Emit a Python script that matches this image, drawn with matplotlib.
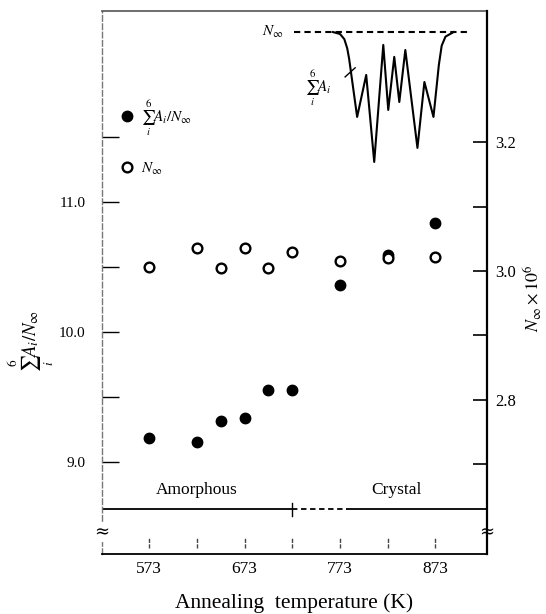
import matplotlib
matplotlib.use('Agg')
import matplotlib.pyplot as plt
from matplotlib.lines import Line2D
import numpy as np

plt.rcParams['font.family'] = ['Liberation Serif', 'DejaVu Serif']
plt.rcParams['mathtext.fontset'] = 'stix'

# ---- data ----
temps = [573, 623, 648, 673, 698, 723, 773, 823, 873]
sum_ratio = [9.18, 9.15, 9.31, 9.34, 9.55, 9.55, 10.36, 10.59, 10.84]
n_inf = [3.006, 3.036, 3.005, 3.036, 3.005, 3.030, 3.015, 3.020, 3.022]

xtick_vals = [573, 673, 773, 873]
xtick_marks = [573, 623, 673, 723, 773, 823, 873]
left_major = [9.0, 10.0, 11.0]
left_minor = [9.5, 10.5, 11.5]
right_major = [2.8, 3.0, 3.2]
right_minor = [2.7, 2.9, 3.1]
phase_labels = ['Amorphous', 'Crystal']
phase_boundary = 723

# schematic inset curve (sum of A_i vs N_inf), drawn in main-axis units
sketch_x = [765.6, 773.0, 777.5, 780.5, 782.5, 790.9, 800.4, 808.8, 818.3, 823.5,
            829.8, 835.1, 841.4, 854.1, 861.4, 870.9, 876.5, 879.5, 883.5, 892.0]
sketch_y = [12.305, 12.29, 12.25, 12.18, 12.10, 11.652, 11.975, 11.306, 12.206, 11.706,
            12.114, 11.767, 12.167, 11.414, 11.921, 11.652, 12.05, 12.20, 12.27, 12.305]
sketch_ref_x = [724.6, 906.7]
sketch_ref_y = 12.305

# ---- figure ----
fig = plt.figure(figsize=(5.46, 6.14), dpi=100)
ax = fig.add_axes([102/546, 1-554/614, 385/546, 543/614])
ax2 = ax.twinx()

ax.set_xlim(523.5, 927.0)
ax.set_ylim(8.290, 12.467)
ax2.set_ylim(2.5607, 3.4039)

# data
ax.plot(temps, sum_ratio, 'o', color='black', ms=7.5, zorder=5)
ax2.plot(temps, n_inf, 'o', mfc='white', mec='black', mew=1.7, ms=7, zorder=5)

# spines
ax.spines['left'].set_linestyle((0, (4, 2)))
ax.spines['left'].set_color('#777777')
ax.spines['left'].set_linewidth(1.0)
ax.spines['top'].set_color('#555555')
ax.spines['top'].set_linewidth(1.2)
ax.spines['bottom'].set_linewidth(1.3)
ax.spines['right'].set_visible(False)
for s in ['left', 'top', 'bottom']:
    ax2.spines[s].set_visible(False)
ax2.spines['right'].set_linewidth(1.6)

# left ticks
ax.set_yticks(left_major)
ax.set_yticks(left_minor, minor=True)
ax.set_yticklabels([f'{v:.1f}' for v in left_major])
ax.tick_params(axis='y', which='both', direction='in', length=12, width=1.0,
               labelsize=11, pad=12)

# right ticks
ax2.set_yticks(right_major)
ax2.set_yticks(right_minor, minor=True)
ax2.set_yticklabels([f'{v:.1f}' for v in right_major])
ax2.tick_params(axis='y', which='both', direction='in', length=10, width=1.2,
                labelsize=12, pad=6)

# x ticks
ax.set_xticks(xtick_vals)
ax.set_xticklabels([str(v) for v in xtick_vals])
ax.tick_params(axis='x', length=0, labelsize=12.5, pad=5)
ax.vlines(xtick_marks, 0.011, 0.029, transform=ax.get_xaxis_transform(),
          color='#444444', lw=1.0, linestyles=(0, (3, 1)))

ax.set_xlabel('Annealing  temperature (K)', fontsize=15.5, labelpad=12)
ax.set_ylabel(r'$\sum_i^6 A_i/N_\infty$', fontsize=13.5, va='center', ha='center')
ax.yaxis.set_label_coords((31 - 102) / 385, (554 - 341) / 543)
ax2.set_ylabel(r'$N_\infty\times10^6$', fontsize=13, rotation=90, va='center', ha='center')
ax2.yaxis.set_label_coords((533 - 102) / 385, (554 - 298) / 543)

# phase line
yl = 8.636
ax.plot([523.5, phase_boundary], [yl, yl], color='black', lw=1.3)
ax.plot([phase_boundary, 780], [yl, yl], color='black', lw=1.3, ls=(0, (3, 2)))
ax.plot([780, 927.0], [yl, yl], color='black', lw=1.3)
ax.plot([phase_boundary, phase_boundary], [yl - 0.05, yl + 0.05], color='black', lw=1.0)
ax.text(623, 8.78, phase_labels[0], ha='center', va='center', fontsize=12.5)
ax.text(832, 8.78, phase_labels[1], ha='center', va='center', fontsize=12.5)

# axis break marks
for xa in [0.0, 1.0]:
    ax.text(xa, 8.459, '≈', transform=ax.get_yaxis_transform(), ha='center',
            va='center', fontsize=13, rotation=0,
            bbox=dict(facecolor='white', edgecolor='none', pad=0.5), zorder=6,
            family='DejaVu Serif')

# schematic inset
ax.plot(sketch_ref_x, [sketch_ref_y]*2, color='black', lw=1.5, ls=(0, (3, 2)))
ax.plot(sketch_x, sketch_y, color='black', lw=1.5)
ax.text(714, sketch_ref_y, r'$N_\infty$', ha='right', va='center', fontsize=11)
ax.text(750, 11.87, r'$\sum_i^6 A_i$', ha='center', va='center', fontsize=11)
ax.plot([778.3, 788.8], [11.96, 12.03], color='black', lw=1.0)

# legend
handles = [Line2D([], [], marker='o', ls='none', color='black', ms=7.5),
           Line2D([], [], marker='o', ls='none', mfc='white', mec='black', mew=1.7, ms=7)]
labels = [r'$\sum_i^6 A_i/N_\infty$', r'$N_\infty$']
leg = ax2.legend(handles, labels, loc='upper left', bbox_to_anchor=(0.045, 0.84),
                 frameon=False, fontsize=11, handletextpad=0.4, labelspacing=1.5,
                 borderaxespad=0, borderpad=0, handlelength=1.0)

fig.savefig('out.png', dpi=100)
